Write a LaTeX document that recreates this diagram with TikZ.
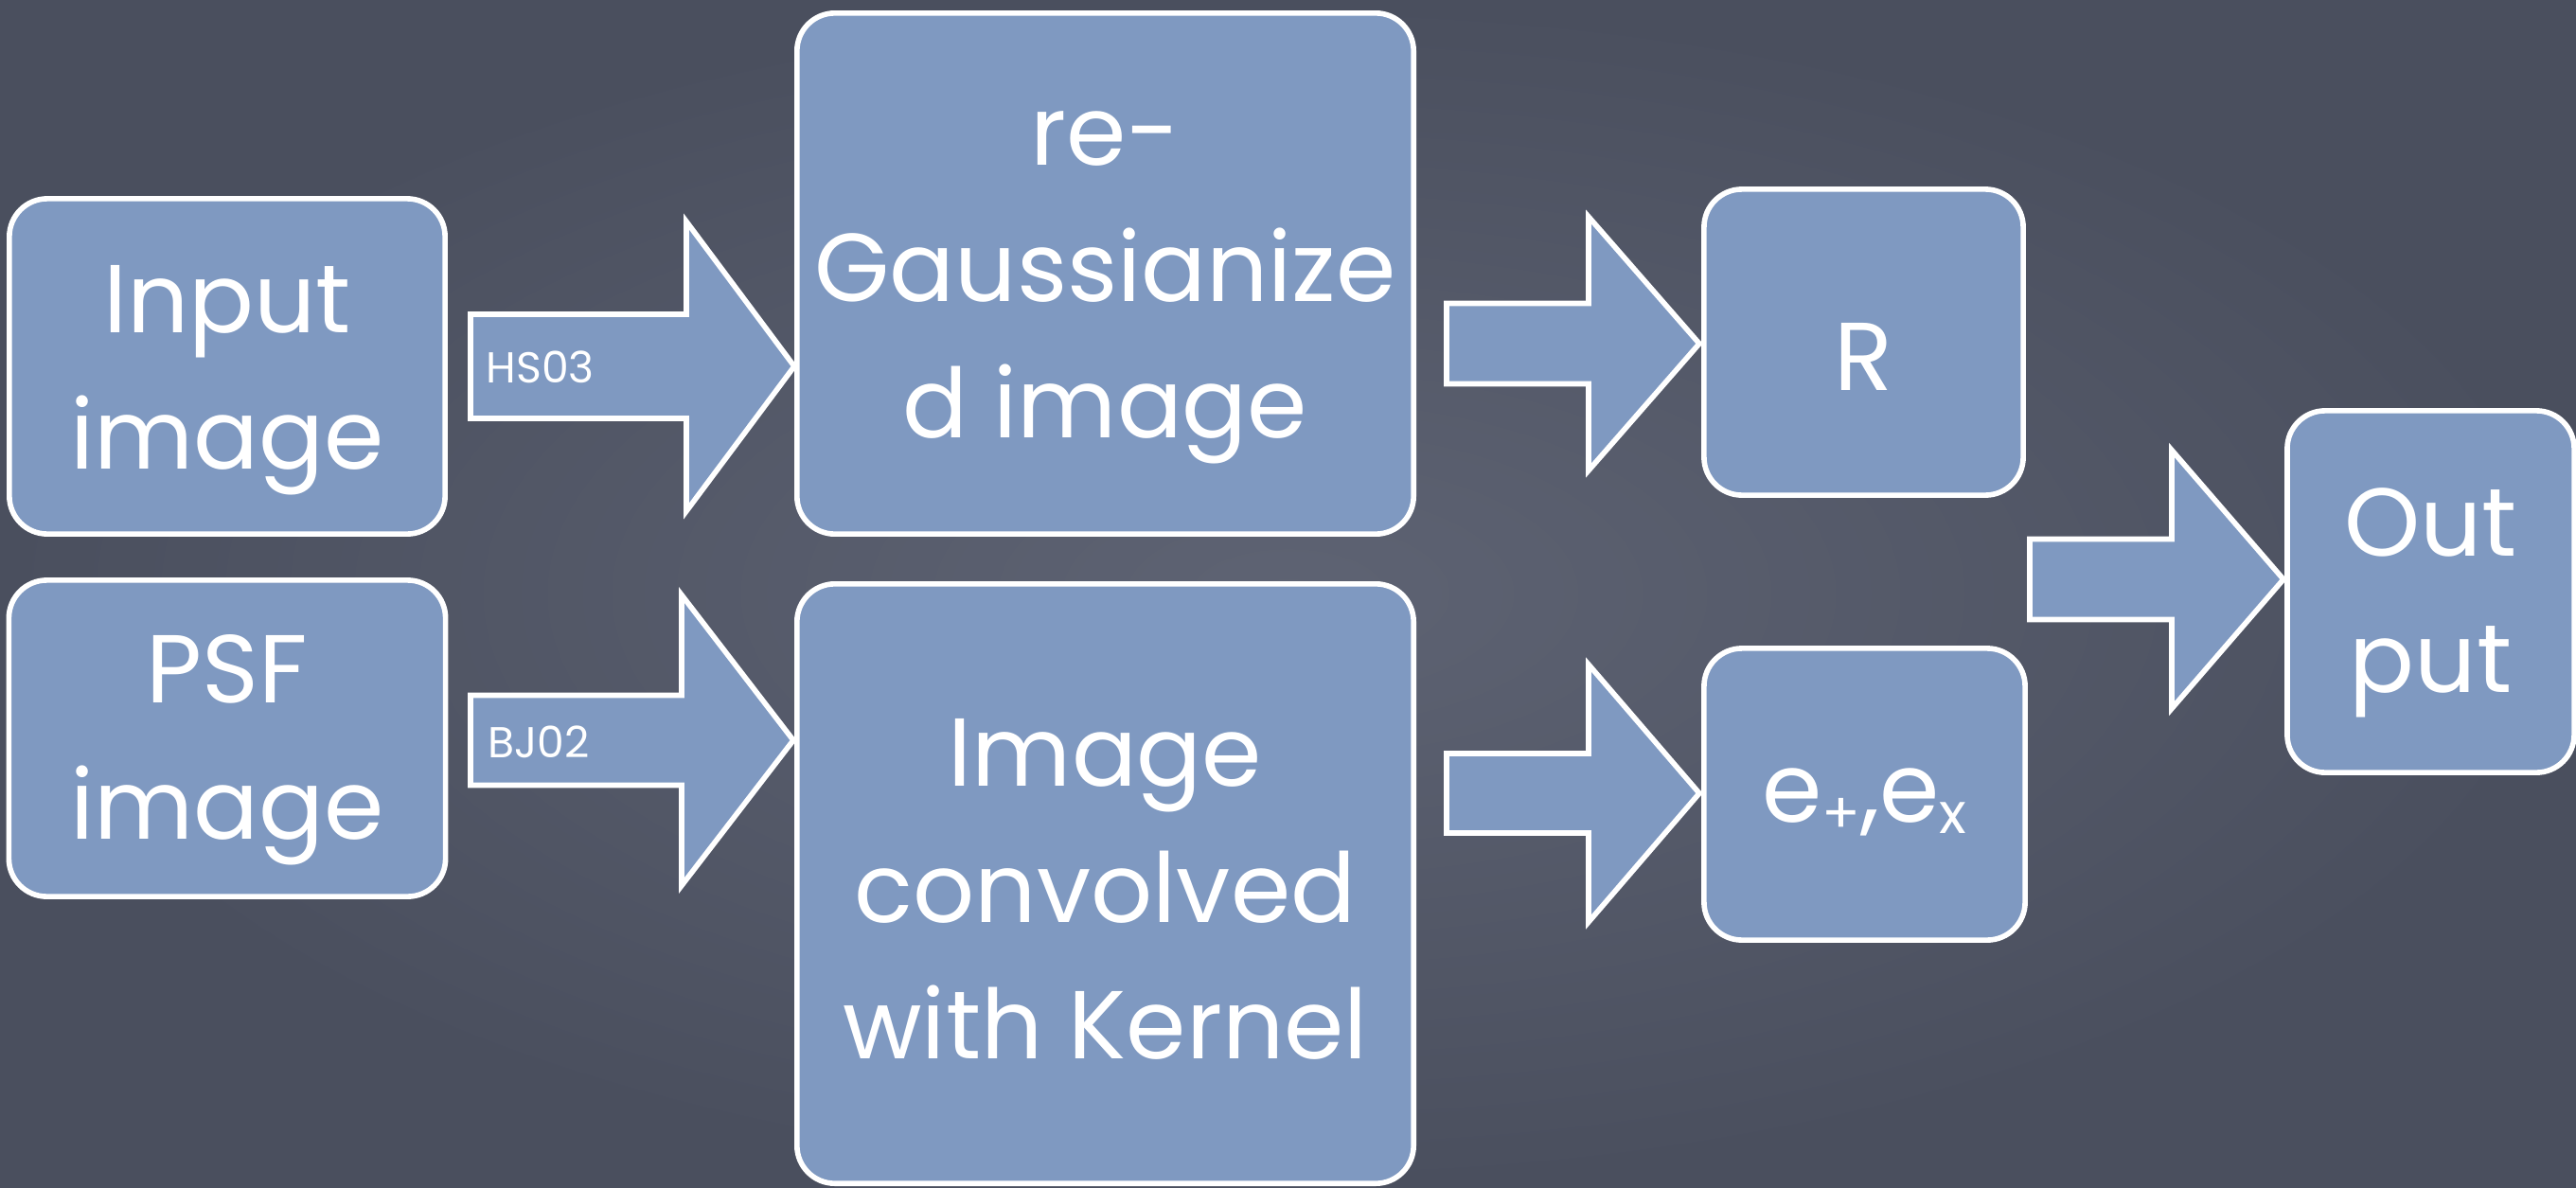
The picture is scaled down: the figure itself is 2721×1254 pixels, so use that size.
\documentclass[tikz,border=0pt]{standalone}
\usepackage{fontspec}
\setmainfont{Poppins}
\usetikzlibrary{calc}
\definecolor{bgmid}{RGB}{94,99,115}
\definecolor{bgout}{RGB}{74,79,94}
\definecolor{boxblue}{RGB}{127,153,193}
\newcommand\blockarrow[7]{%
  % #1 name, #2 tail x, #3 head base x, #4 tip x, #5 centre y, #6 shaft half height, #7 head half height
  \coordinate (#1) at (#2,#5);
  \draw[blockarr] (#2,#5-#6) -- (#3,#5-#6) -- (#3,#5-#7) -- (#4,#5)
     -- (#3,#5+#7) -- (#3,#5+#6) -- (#2,#5+#6) -- cycle;}
\begin{document}
\begin{tikzpicture}[x=0.01cm,y=-0.01cm,
  procbox/.style={draw=white, line width=1.6pt, fill=boxblue, rounded corners=0.4cm, inner sep=0pt},
  proctext/.style={text=white, align=center, inner sep=0pt, font=\fontsize{29}{41}\selectfont},
  blockarr/.style={draw=white, line width=1.6pt, fill=boxblue, line join=miter},
  arrowlabel/.style={text=white, anchor=west, inner sep=0pt, font=\fontsize{13}{15}\selectfont}]
\shade[inner color=bgmid, outer color=bgout] (0,0) rectangle (2721,1254);
\useasboundingbox (0,0) rectangle (2721,1254);

% boxes
\node[procbox, minimum width=4.6cm,  minimum height=3.54cm] (in)  at (240,387)      {};
\node[procbox, minimum width=4.61cm, minimum height=3.34cm] (psf) at (240,780)      {};
\node[procbox, minimum width=6.51cm, minimum height=5.5cm]  (rg)  at (1167.5,289)   {};
\node[procbox, minimum width=6.51cm, minimum height=6.33cm] (ic)  at (1167.5,933.5) {};
\node[procbox, minimum width=3.37cm, minimum height=3.23cm] (R)   at (1968.5,361.5) {};
\node[procbox, minimum width=3.39cm, minimum height=3.08cm] (e)   at (1969.5,839)   {};
\node[procbox, minimum width=3.03cm, minimum height=3.82cm] (out) at (2567.5,625)   {};

% box texts
\node[proctext] (inT)  at ($(in)+(0,15)$)  {Input\\image};
\node[proctext] (psfT) at ($(psf)+(0,12)$) {PSF\\image};
\node[proctext] (rgT)  at ($(rg)+(0,15)$)  {re-\\Gaussianize\\d image};
\node[proctext] (icT)  at ($(ic)+(0,6)$)   {Image\\convolved\\with Kernel};
\node[proctext] (RT)   at ($(R)+(0,15)$)   {R};
\node[proctext] (eT)   at ($(e)+(0,8)$)    {e\raisebox{-0.12em}{\fontsize{17}{17}\selectfont +},e\raisebox{-0.12em}{\fontsize{17}{17}\selectfont x}};
\node[proctext] (outT) at ($(out)+(0,12)$) {Out\\put};

% block arrows
\blockarrow{aHS}{497}{725}{839}{387}{55}{153}
\blockarrow{aBJ}{497}{720}{838}{782}{47.5}{153.5}
\blockarrow{aR}{1528}{1678}{1795}{363}{42.5}{134}
\blockarrow{aE}{1528}{1678}{1795}{838}{42}{136}
\blockarrow{aO}{2144}{2294}{2412}{612}{42.5}{136.5}

\node[arrowlabel] (lHS) at ($(aHS)+(16,1)$) {HS03};
\node[arrowlabel] (lBJ) at ($(aBJ)+(18,2)$) {BJ02};
\end{tikzpicture}
\end{document}
